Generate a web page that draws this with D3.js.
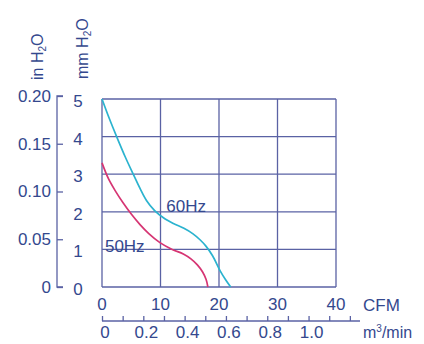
<!DOCTYPE html>
<html><head><meta charset="utf-8">
<script src="https://cdn.jsdelivr.net/npm/d3@7"></script>
<style>
html,body{margin:0;padding:0;background:#fff;}
text{font-family:"Liberation Sans",Arial,sans-serif;}
</style></head>
<body>
<svg id="c" width="424" height="344"></svg>
<script>
// Data
const cfm60 = [0, 1.2, 2.5, 4, 5.4, 6.5, 7.6, 9, 10.5, 12.2, 14, 15.5, 16.8, 17.8, 18.9, 20.2, 21.1, 22];
const mm60  = [5.0, 4.5, 4.0, 3.45, 2.98, 2.62, 2.3, 2.03, 1.84, 1.69, 1.56, 1.42, 1.25, 1.08, 0.83, 0.43, 0.2, 0];
const cfm50 = [0, 1.1, 2.3, 3.6, 5, 6.5, 8, 9.9, 12, 13.9, 15.2, 16.3, 17.2, 17.8, 18.1];
const mm50  = [3.3, 2.88, 2.55, 2.24, 1.94, 1.66, 1.42, 1.18, 1.0, 0.88, 0.75, 0.59, 0.4, 0.2, 0];
const cfmTicks = [0, 10, 20, 30, 40];
const mmTicks = [0, 1, 2, 3, 4, 5];
const inTicks = [0, 0.05, 0.10, 0.15, 0.20];
const inTickLabels = ["0", "0.05", "0.10", "0.15", "0.20"];
const m3Ticks = [0, 0.1, 0.2, 0.3, 0.4, 0.5, 0.6, 0.7, 0.8, 0.9, 1.0, 1.1, 1.2];
const m3Labels = [0, 0.2, 0.4, 0.6, 0.8, 1.0];
const seriesLabels = ["60Hz", "50Hz"];

const textColor = "#34488e", gridColor = "#5a62a4";
const cyan = "#2bb3cf", magenta = "#d63573";

const svg = d3.select("#c");
const x = d3.scaleLinear().domain([0, 40]).range([102, 336]);
const y = d3.scaleLinear().domain([0, 5]).range([287, 99]);
const yIn = d3.scaleLinear().domain([0, 5 / 25.4]).range([287, 99]);
const CFM_PER_M3 = 35.31;
const xM3 = d3.scaleLinear().domain([0, 40 / CFM_PER_M3]).range([102, 336]);

// grid
const g = svg.append("g");
g.selectAll("line.v").data(cfmTicks).join("line")
  .attr("x1", d => x(d)).attr("x2", d => x(d)).attr("y1", y(0)).attr("y2", y(5))
  .attr("stroke", gridColor).attr("stroke-width", 1.3);
g.selectAll("line.h").data(mmTicks).join("line")
  .attr("x1", x(0)).attr("x2", x(40)).attr("y1", d => y(d)).attr("y2", d => y(d))
  .attr("stroke", gridColor).attr("stroke-width", 1.3);

// curves
const line = d3.line().x(d => x(d[0])).y(d => y(d[1])).curve(d3.curveCatmullRom.alpha(0.5));
svg.append("path").datum(cfm60.map((c, i) => [c, mm60[i]]))
  .attr("d", line).attr("fill", "none").attr("stroke", cyan).attr("stroke-width", 1.7);
svg.append("path").datum(cfm50.map((c, i) => [c, mm50[i]]))
  .attr("d", line).attr("fill", "none").attr("stroke", magenta).attr("stroke-width", 1.7);

// series labels
svg.append("text").attr("x", x(11)).attr("y", y(2.15)).attr("dy", "0.35em")
  .attr("font-size", 17).attr("fill", textColor).text(seriesLabels[0]);
svg.append("text").attr("x", x(0.5)).attr("y", y(1.1)).attr("dy", "0.35em")
  .attr("font-size", 17).attr("fill", textColor).text(seriesLabels[1]);

// left in H2O axis
const inAxis = d3.axisRight(yIn).tickValues(inTicks).tickSize(6).tickFormat("");
const ia = svg.append("g").attr("transform", "translate(57,0)").call(inAxis);
ia.select(".domain").attr("stroke", gridColor).attr("stroke-width", 1.3)
  .attr("d", `M6,${yIn(0.2)}H0V${yIn(0)}H6`);
ia.selectAll(".tick line").attr("stroke", gridColor).attr("stroke-width", 1.3);
svg.selectAll("text.inl").data(inTicks).join("text").attr("class", "inl")
  .attr("x", 51).attr("y", d => yIn(d)).attr("dy", "0.35em").attr("text-anchor", "end")
  .attr("font-size", 17).attr("fill", textColor).text((d, i) => inTickLabels[i]);
// mm labels
svg.selectAll("text.mml").data(mmTicks).join("text").attr("class", "mml")
  .attr("x", 78).attr("y", d => y(d) + 2).attr("dy", "0.35em").attr("text-anchor", "middle")
  .attr("font-size", 17).attr("fill", textColor).text(d => d);

// axis titles
function title(tx, ty, main) {
  const t = svg.append("text").attr("transform", `translate(${tx},${ty}) rotate(-90)`)
    .attr("font-size", 16).attr("fill", textColor);
  t.append("tspan").text(main + " H");
  t.append("tspan").attr("font-size", 10).attr("dy", 3).text("2");
  t.append("tspan").attr("dy", -3).text("O");
}
title(43, 80, "in");
title(88, 79, "mm");

// CFM labels
svg.selectAll("text.cfm").data(cfmTicks).join("text").attr("class", "cfm")
  .attr("x", d => x(d)).attr("y", 310).attr("text-anchor", "middle")
  .attr("font-size", 17).attr("fill", textColor).text(d => d);
svg.append("text").attr("x", 363).attr("y", 311).attr("font-size", 17).attr("fill", textColor).text("CFM");

// m3/min axis
const m3Axis = d3.axisTop(xM3).tickValues(m3Ticks).tickSize(5).tickFormat("");
const ma = svg.append("g").attr("transform", "translate(0,321)").call(m3Axis);
ma.select(".domain").attr("stroke", gridColor).attr("stroke-width", 1.3)
  .attr("d", `M${xM3(0)},0H360`);
ma.selectAll(".tick line").attr("stroke", gridColor).attr("stroke-width", 1.3);
svg.selectAll("text.m3").data(m3Labels).join("text").attr("class", "m3")
  .attr("x", d => xM3(d) + 3).attr("y", 338).attr("text-anchor", "middle")
  .attr("font-size", 17).attr("fill", textColor).text(d => d === 0 ? "0" : d.toFixed(1));
const mt = svg.append("text").attr("x", 363).attr("y", 338).attr("font-size", 16).attr("fill", textColor);
mt.append("tspan").text("m");
mt.append("tspan").attr("font-size", 10).attr("dy", -6).text("3");
mt.append("tspan").attr("dy", 6).text("/min");
</script>
</body></html>
